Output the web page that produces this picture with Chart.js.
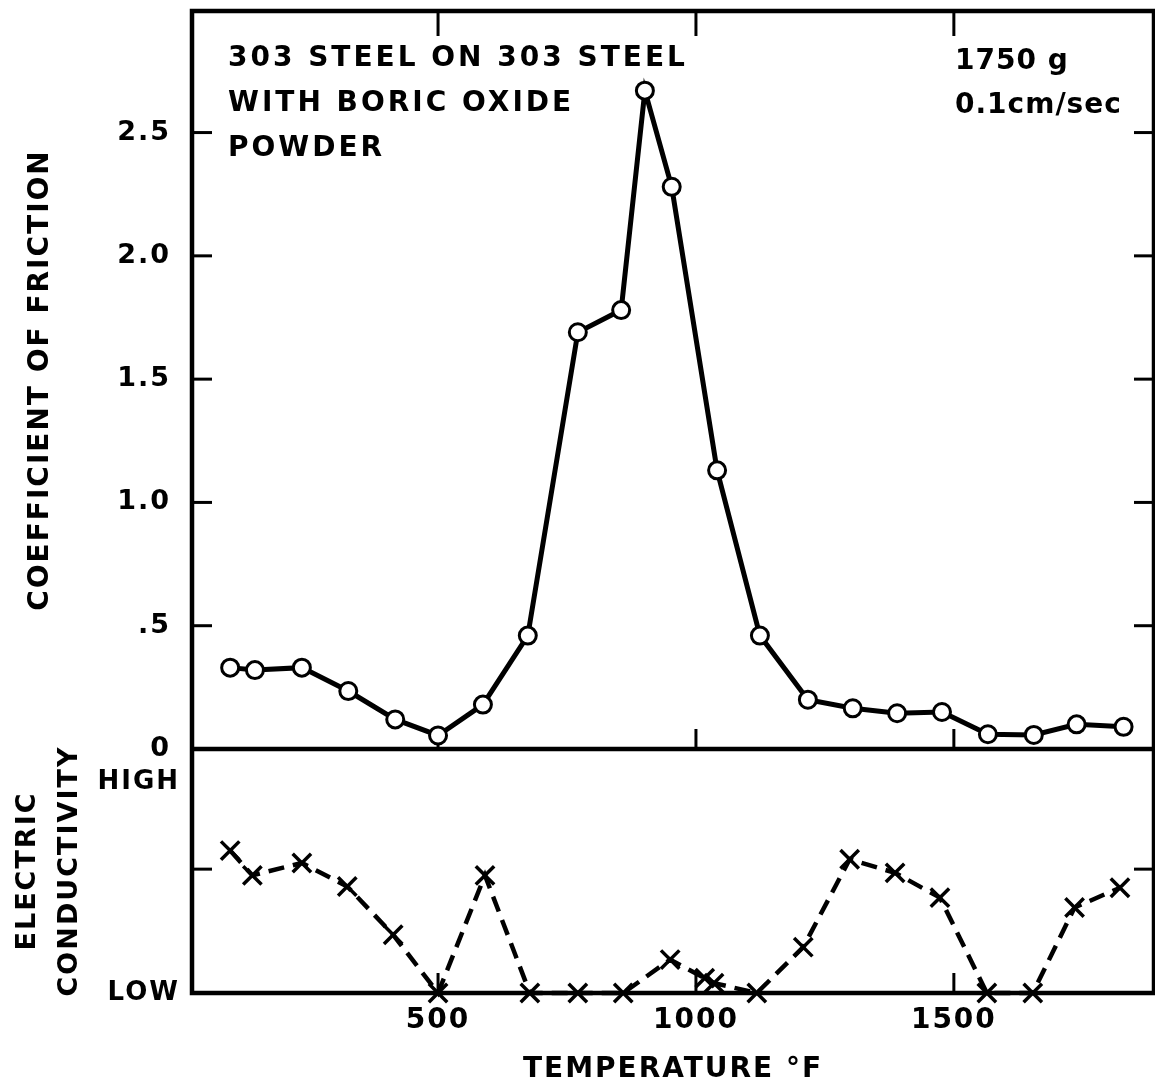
<!DOCTYPE html>
<html>
<head>
<meta charset="utf-8">
<script src="https://cdn.jsdelivr.net/npm/chart.js@4.4.0/dist/chart.umd.min.js"></script>
<style>
  html, body { margin: 0; padding: 0; background: #fff; }
  #wrap { width: 1155px; height: 1087px; position: relative; }
</style>
</head>
<body>
<div id="wrap"><canvas id="chart"></canvas></div>
<script>
// === Data ===
const frictionTemps = [97, 145, 236, 326, 417, 500, 587, 674, 771, 855, 901, 953, 1041, 1124, 1217, 1304, 1390, 1477, 1566, 1655, 1738, 1829];
const frictionCoef = [0.33, 0.32, 0.33, 0.235, 0.12, 0.055, 0.18, 0.46, 1.69, 1.78, 2.67, 2.28, 1.13, 0.46, 0.2, 0.165, 0.145, 0.15, 0.06, 0.057, 0.1, 0.09];

const condTemps = [97, 140, 236, 324, 413, 500, 591, 678, 771, 859, 950, 1017, 1035, 1118, 1208, 1298, 1386, 1473, 1564, 1653, 1734, 1822];
const condLevel = [1.15, 0.95, 1.05, 0.86, 0.47, 0, 0.95, 0, 0, 0, 0.27, 0.12, 0.08, 0, 0.37, 1.08, 0.97, 0.77, 0, 0, 0.69, 0.85];

const xTicks = [500, 1000, 1500];
const frictionTicks = [0, 0.5, 1, 1.5, 2, 2.5];
const condTicks = [0, 1, 1.7];
const condTickLabels = { 0: "LOW", 1: "", 1.7: "HIGH" };

const notesLeft = ["303 STEEL ON 303 STEEL", "WITH BORIC OXIDE", "POWDER"];
const notesRight = ["1750 g", "0.1cm/sec"];

const FONT = "'DejaVu Sans', 'Liberation Sans', sans-serif";
const SPACING = "2px";

// no extra room around the axes, the layout is fixed
function noPad(s) {
  s.paddingTop = 0;
  s.paddingBottom = 0;
  s.paddingLeft = 0;
  s.paddingRight = 0;
}

// === Plugins: letter spacing, frame with inward ticks, notes ===
const spacingPlugin = {
  id: "spacing",
  beforeDraw(chart) {
    chart.ctx.letterSpacing = SPACING;
  },
};

const framePlugin = {
  id: "frame",
  beforeDatasetsDraw(chart) {
    const { ctx, chartArea: a, scales } = chart;
    const x = scales.x, yF = scales.yFric, yC = scales.yCond;
    ctx.save();
    ctx.strokeStyle = "#000";
    ctx.lineWidth = 4.5;
    ctx.strokeRect(a.left, a.top, a.right - a.left, a.bottom - a.top);
    ctx.beginPath();
    ctx.moveTo(a.left, yF.bottom);
    ctx.lineTo(a.right, yF.bottom);
    ctx.stroke();

    ctx.lineWidth = 3;
    const seg = (x0, y0, x1, y1) => {
      ctx.beginPath();
      ctx.moveTo(x0, y0);
      ctx.lineTo(x1, y1);
      ctx.stroke();
    };
    frictionTicks.slice(1).forEach((v) => {
      const py = yF.getPixelForValue(v);
      seg(a.left, py, a.left + 20, py);
      seg(a.right, py, a.right - 20, py);
    });
    const py1 = yC.getPixelForValue(1);
    seg(a.left, py1, a.left + 20, py1);
    seg(a.right, py1, a.right - 20, py1);
    xTicks.forEach((v) => {
      const px = x.getPixelForValue(v);
      seg(px, a.top, px, a.top + 25);
      seg(px, yF.bottom, px, yF.bottom - 20);
      seg(px, a.bottom, px, a.bottom - 20);
    });
    ctx.restore();
  },
};

const notesPlugin = {
  id: "notes",
  afterDraw(chart) {
    const { ctx, chartArea: a } = chart;
    ctx.save();
    ctx.fillStyle = "#000";
    ctx.font = `bold 28px ${FONT}`;
    ctx.textBaseline = "middle";
    ctx.textAlign = "left";
    ctx.letterSpacing = "3px";
    notesLeft.forEach((t, i) => ctx.fillText(t, a.left + 36, a.top + 48 + i * 45));
    ctx.letterSpacing = "1px";
    notesRight.forEach((t, i) => ctx.fillText(t, a.left + 763, a.top + 51 + i * 44));
    ctx.restore();
  },
};

// === Chart ===
new Chart(document.getElementById("chart"), {
  type: "line",
  data: {
    datasets: [
      {
        label: "Coefficient of friction",
        data: frictionTemps.map((t, i) => ({ x: t, y: frictionCoef[i] })),
        yAxisID: "yFric",
        borderColor: "#000",
        borderWidth: 5,
        pointStyle: "circle",
        pointRadius: 8.5,
        pointBorderWidth: 3,
        pointBackgroundColor: "#fff",
        pointBorderColor: "#000",
        tension: 0,
        clip: false,
      },
      {
        label: "Electric conductivity",
        data: condTemps.map((t, i) => ({ x: t, y: condLevel[i] })),
        yAxisID: "yCond",
        borderColor: "#000",
        borderWidth: 4.5,
        borderDash: [16, 9],
        pointStyle: "crossRot",
        pointRadius: 13,
        pointBorderWidth: 3.5,
        pointBorderColor: "#000",
        tension: 0,
        clip: false,
      },
    ],
  },
  options: {
    responsive: true,
    maintainAspectRatio: false,
    animation: false,
    layout: { autoPadding: false, padding: { top: 11, right: 1, left: 0, bottom: 0 } },
    plugins: {
      legend: { display: false },
      tooltip: { enabled: false },
    },
    scales: {
      x: {
        type: "linear",
        min: 23,
        max: 1888,
        afterBuildTicks: (s) => { s.ticks = xTicks.map((v) => ({ value: v })); },
        afterFit: (s) => { s.height = 94; noPad(s); },
        grid: { display: false, drawTicks: false },
        border: { display: false },
        ticks: {
          color: "#000",
          padding: 11,
          font: { family: FONT, size: 28, weight: "bold" },
          callback: (v) => String(v),
        },
        title: {
          display: true,
          text: "TEMPERATURE °F",
          color: "#000",
          padding: { top: 0, bottom: 0 },
          font: { family: FONT, size: 28, weight: "bold" },
        },
      },
      yCond: {
        type: "linear",
        position: "left",
        stack: "panels",
        stackWeight: 244,
        min: 0,
        max: 1.97,
        afterBuildTicks: (s) => { s.ticks = condTicks.map((v) => ({ value: v })); },
        afterFit: (s) => { s.width = 192; noPad(s); },
        grid: { display: false, drawTicks: false },
        border: { display: false },
        ticks: {
          color: "#000",
          padding: 12,
          font: { family: FONT, size: 26, weight: "bold" },
          callback: (v) => condTickLabels[v] ?? "",
        },
        title: {
          display: true,
          text: ["ELECTRIC", "CONDUCTIVITY"],
          color: "#000",
          padding: { top: 7, bottom: 0 },
          font: { family: FONT, size: 27, weight: "bold", lineHeight: 1.556 },
        },
      },
      yFric: {
        type: "linear",
        position: "left",
        stack: "panels",
        stackWeight: 738,
        min: 0,
        max: 2.993,
        afterBuildTicks: (s) => { s.ticks = frictionTicks.map((v) => ({ value: v })); },
        afterFit: (s) => { s.width = 192; noPad(s); },
        grid: { display: false, drawTicks: false },
        border: { display: false },
        ticks: {
          color: "#000",
          padding: 21,
          font: { family: FONT, size: 27, weight: "bold" },
          callback: (v) => (v === 0 ? "0" : v === 0.5 ? ".5" : v.toFixed(1)),
        },
        title: {
          display: true,
          text: "COEFFICIENT OF FRICTION",
          color: "#000",
          padding: { top: 24, bottom: 0 },
          font: { family: FONT, size: 28, weight: "bold" },
        },
      },
    },
  },
  plugins: [spacingPlugin, framePlugin, notesPlugin],
});
</script>
</body>
</html>
